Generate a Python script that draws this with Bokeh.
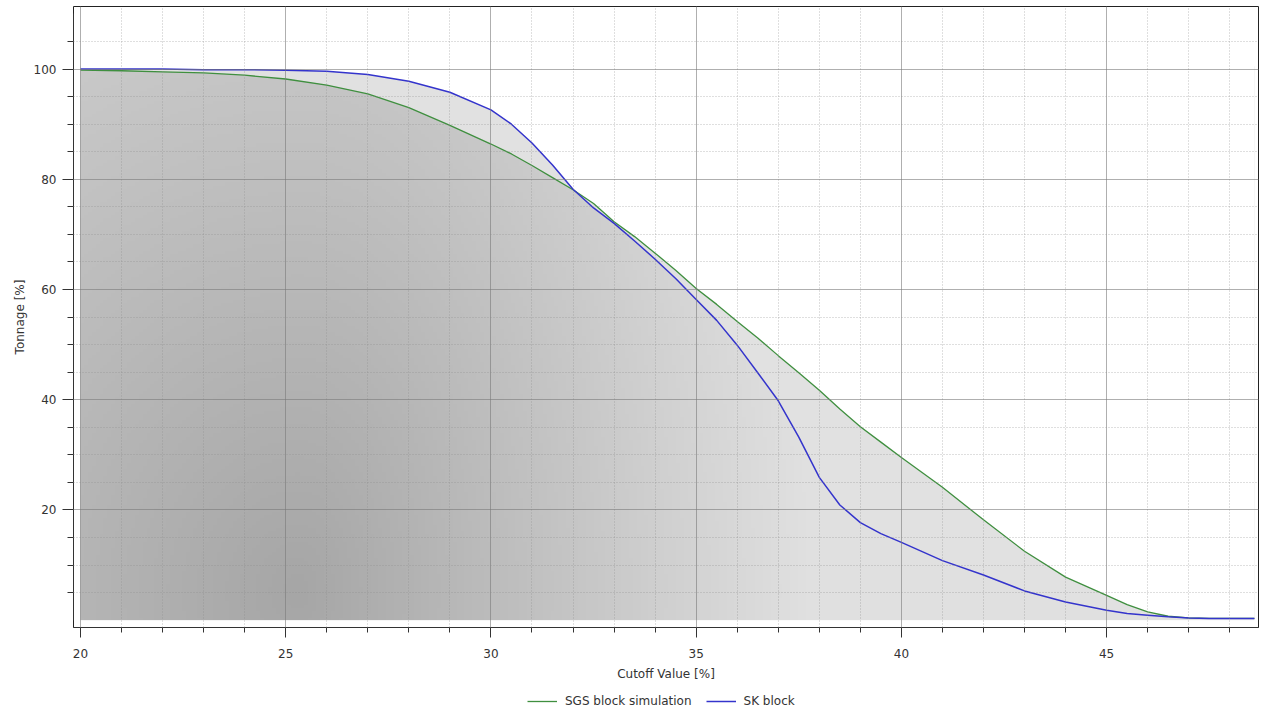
import numpy as np
from bokeh.plotting import figure
from bokeh.layouts import column
from bokeh.models import (Range1d, FixedTicker, Legend, LegendItem)
from bokeh.embed import file_html
from bokeh.resources import INLINE

# ---- data ----
cutoff = [20, 21, 22, 23, 24, 25, 26, 27, 28, 29, 30, 30.5, 31, 31.5, 32, 32.5,
          33, 33.5, 34, 34.5, 35, 35.5, 36, 36.5, 37, 37.5, 38, 38.5, 39, 39.5,
          40, 41, 42, 43, 44, 45, 45.5, 46, 46.5, 47, 47.5, 48, 48.6]
sgs_block_simulation = [99.8, 99.7, 99.5, 99.3, 98.9, 98.2, 97.1, 95.5, 93.0, 89.8,
                        86.4, 84.6, 82.5, 80.3, 78.1, 75.6, 72.3, 69.6, 66.6, 63.5,
                        60.2, 57.3, 54.2, 51.2, 48.0, 44.9, 41.7, 38.3, 35.1, 32.3,
                        29.5, 24.1, 18.2, 12.5, 7.8, 4.5, 2.8, 1.5, 0.7, 0.4, 0.3,
                        0.3, 0.3]
sk_block = [100.0, 100.0, 100.0, 99.9, 99.9, 99.8, 99.6, 99.0, 97.8, 95.8,
            92.6, 90.0, 86.6, 82.6, 78.2, 74.8, 72.0, 68.8, 65.5, 62.0,
            58.2, 54.4, 49.9, 44.9, 39.8, 33.2, 25.9, 20.9, 17.7, 15.7,
            14.1, 10.8, 8.2, 5.3, 3.3, 1.8, 1.2, 0.9, 0.6, 0.4, 0.3,
            0.3, 0.3]
series_names = ["SGS block simulation", "SK block"]
x_major_ticks = [20, 25, 30, 35, 40, 45]
x_minor_ticks = [v for v in range(21, 49) if v % 5 != 0]
y_major_ticks = [20, 40, 60, 80, 100]
y_minor_ticks = [v for v in range(5, 110, 5) if v % 20 != 0]

FONT = "DejaVu Sans"
FS = "12px"
TXT = "#333333"
GREEN = "#3f8f3f"
BLUE = "#3434cc"

x = np.array(cutoff, dtype=float)
s1 = np.array(sgs_block_simulation, dtype=float)
s2 = np.array(sk_block, dtype=float)
lo = np.minimum(s1, s2)
hi = np.maximum(s1, s2)

p = figure(width=1267, height=690, output_backend="svg", toolbar_location=None,
           x_range=Range1d(19.83, 48.70), y_range=Range1d(-1.34, 111.36),
           min_border_left=73, min_border_right=9, min_border_top=6,
           min_border_bottom=63, background_fill_color="white",
           border_fill_color="white")
p.outline_line_color = "#222222"
p.outline_line_width = 1

# ---- gradient background under the curves (styling only) ----
W, H = 300, 170
x0, x1 = x[0], x[-1]
y0, y1 = 0.0, 100.5
gx = np.linspace(x0, x1, W)
gy = np.linspace(y0, y1, H)
GX, GY = np.meshgrid(gx, gy)
dxp = (GX - 25.3) * 41.04
dyp = (GY - 5.0) * 5.51
sx = np.where(dxp > 0, 420.0, 700.0)
rn = np.sqrt((dxp / sx) ** 2 + (dyp / 800.0) ** 2)
gray = np.clip(166 + 48 * rn, 160, 224).astype(np.uint8)
img = np.empty((H, W), dtype=np.uint32)
view = img.view(dtype=np.uint8).reshape((H, W, 4))
view[:, :, 0] = gray
view[:, :, 1] = gray
view[:, :, 2] = gray
view[:, :, 3] = 255
p.image_rgba(image=[img], x=x0, y=y0, dw=x1 - x0, dh=y1 - y0)

# light band between curves and white mask above
p.varea(x=x, y1=lo, y2=hi, fill_color="#e1e1e1")
p.varea(x=x, y1=hi, y2=np.full_like(x, 103.0), fill_color="white")

p.line(x, s1, line_color=GREEN, line_width=1.3)
p.line(x, s2, line_color=BLUE, line_width=1.5)

# ---- axes ----
p.xaxis.ticker = FixedTicker(ticks=x_major_ticks, minor_ticks=x_minor_ticks)
p.yaxis.ticker = FixedTicker(ticks=y_major_ticks, minor_ticks=y_minor_ticks)
p.yaxis.bounds = (0, 110)
for ax in (p.xaxis[0], p.yaxis[0]):
    ax.axis_line_color = "#333333"
    ax.major_tick_line_color = "#333333"
    ax.minor_tick_line_color = "#333333"
    ax.major_tick_in = 0
    ax.minor_tick_in = 0
    ax.major_label_text_font = FONT
    ax.major_label_text_font_size = FS
    ax.major_label_text_color = TXT
    ax.axis_label_text_font = FONT
    ax.axis_label_text_font_size = FS
    ax.axis_label_text_font_style = "normal"
    ax.axis_label_text_color = TXT
p.xaxis.major_tick_out = 10
p.xaxis.minor_tick_out = 5
p.yaxis.major_tick_out = 11
p.yaxis.minor_tick_out = 6
p.xaxis.major_label_standoff = 11
p.yaxis.major_label_standoff = 6
p.xaxis.axis_label = "Cutoff Value [%]"
p.yaxis.axis_label = "Tonnage [%]"
p.xaxis.axis_label_standoff = 6
p.yaxis.axis_label_standoff = 4

# ---- grid on top of the fills ----
for grid in (p.xgrid[0], p.ygrid[0]):
    grid.level = "overlay"
    grid.grid_line_color = "#7a7a7a"
    grid.grid_line_alpha = 0.6
    grid.grid_line_width = 1
    grid.minor_grid_line_color = "#8a8a8a"
    grid.minor_grid_line_alpha = 0.55
    grid.minor_grid_line_dash = "1 2"
    grid.minor_grid_line_width = 1

# ---- legend strip below the chart (series drawn out of view, legend only) ----
q = figure(width=1267, height=22, output_backend="svg", toolbar_location=None,
           x_range=Range1d(0, 1), y_range=Range1d(0, 1),
           min_border=0, background_fill_color="white",
           border_fill_color="white")
q.outline_line_color = None
q.axis.visible = False
q.grid.visible = False
lg = q.line(x, s1, line_color=GREEN, line_width=1.3)
lb = q.line(x, s2, line_color=BLUE, line_width=1.5)
legend = Legend(items=[LegendItem(label=series_names[0], renderers=[lg]),
                       LegendItem(label=series_names[1], renderers=[lb])],
                orientation="horizontal", location=(454, 4))
legend.border_line_color = None
legend.background_fill_alpha = 0
legend.label_text_font = FONT
legend.label_text_font_size = FS
legend.label_text_color = TXT
legend.glyph_width = 30
legend.glyph_height = 14
legend.label_height = 14
legend.label_standoff = 8
legend.spacing = 14
legend.padding = 0
legend.margin = 0
q.add_layout(legend)

open("out.html", "w").write(file_html(column(p, q, spacing=0), INLINE))
